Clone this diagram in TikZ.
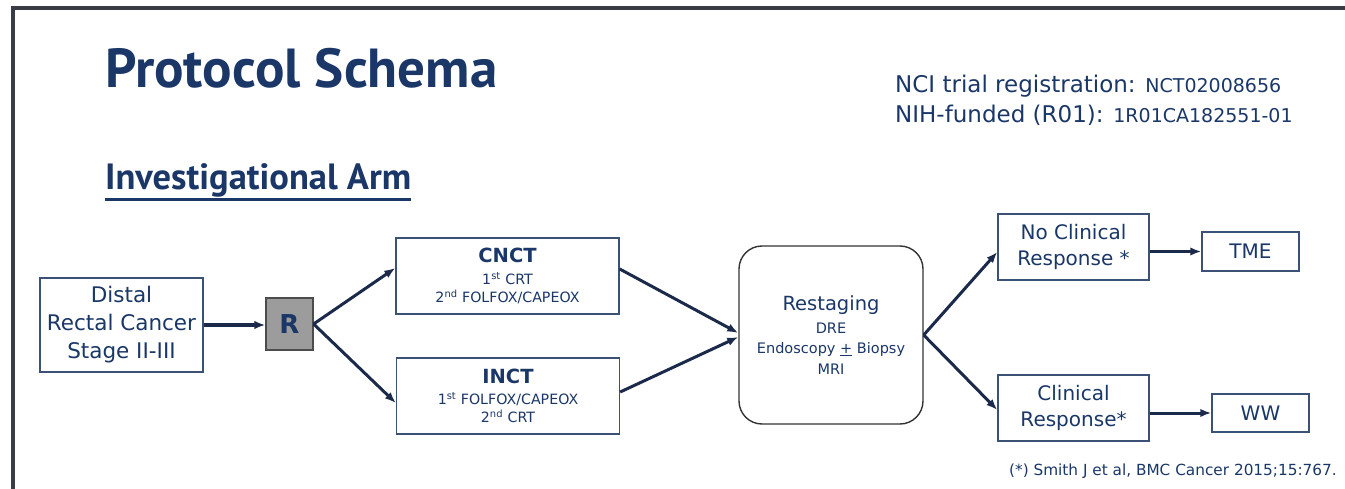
\documentclass[tikz,border=0pt]{standalone}
\usepackage{fontspec}
\setmainfont{DejaVu Sans}
\newfontfamily\headfont{PT Sans}
\usepackage{xcolor}
\usetikzlibrary{arrows.meta}
\definecolor{navy}{HTML}{1A3768}
\definecolor{boxline}{HTML}{3B5175}
\definecolor{arrowblue}{HTML}{1B2A4A}
\definecolor{framegray}{HTML}{3A3D44}
\definecolor{randgray}{HTML}{9C9C9C}
\tikzset{
  slideframe/.style={draw=framegray, line width=4pt, miter limit=10},
  headtext/.style={text=navy, inner sep=0pt, anchor=base west},
  armbox/.style={
    draw=boxline, line width=1.4pt, fill=white, align=center,
    text=navy, inner sep=2pt, font=\fontsize{20}{28}\selectfont
  },
  drugbox/.style={
    armbox, minimum width=223pt, minimum height=76pt,
    font=\fontsize{14.2}{18}\selectfont
  },
  outbox/.style={armbox, font=\fontsize{20}{26}\selectfont},
  randbox/.style={
    draw=black!70, line width=1.2pt, fill=randgray, text=navy,
    minimum width=47pt, minimum height=52pt, inner sep=0pt,
    font=\fontsize{26}{30}\selectfont\bfseries
  },
  restagebox/.style={
    draw=black!80, line width=1.4pt, fill=white, align=center,
    rounded corners=23pt, text=navy,
    minimum width=184pt, minimum height=178pt,
    font=\fontsize{14.5}{20.5}\selectfont
  },
  flowarrow/.style={
    -{Latex[length=11pt,width=8.5pt]}, line width=3pt, draw=arrowblue
  },
}

\begin{document}
\begin{tikzpicture}[x=1pt, y=-1pt]
  \useasboundingbox (0,0) rectangle (1345,489);

  % ── Slide frame ────────────────────────────────────────────────
  \draw[slideframe] (13,489) -- (13,8) -- (1345,8);

  % ── Headings ───────────────────────────────────────────────────
  \node[headtext, font=\headfont\bfseries\fontsize{55}{64}\selectfont]
    (title) at (105,88) {Protocol Schema};
  \node[headtext, font=\headfont\bfseries\fontsize{36.5}{42}\selectfont]
    (arm) at (105,190) {Investigational Arm};
  \draw[navy, line width=2.5pt]
    ([yshift=-1.5pt]arm.south west) -- ([yshift=-1.5pt]arm.south east);

  \node[headtext, font=\fontsize{23}{27}\selectfont] (nci) at (895,93)
    {NCI trial registration: {\fontsize{19}{23}\selectfont NCT02008656}};
  \node[headtext, font=\fontsize{23}{27}\selectfont] (nih) at (895,123)
    {NIH-funded (R01): {\fontsize{19}{23}\selectfont 1R01CA182551-01}};

  % ── Eligibility and randomisation ──────────────────────────────
  \node[armbox, minimum width=163pt, minimum height=94pt,
        font=\fontsize{21.5}{28}\selectfont]
    (distal) at (121.5,325) {Distal\\Rectal Cancer\\Stage II-III};
  \node[randbox] (rand) at (289.5,324) {R};

  \draw[flowarrow] (distal.east) -- (distal.east -| rand.west);

  % ── Treatment sequences ────────────────────────────────────────
  \node[drugbox] (cnct) at (507.5,276)
    {{\fontsize{19.5}{22}\selectfont\bfseries CNCT}\\[4pt]
     1\textsuperscript{st} CRT\\
     2\textsuperscript{nd} FOLFOX/CAPEOX};
  \node[drugbox] (inct) at (508,396)
    {{\fontsize{19.5}{22}\selectfont\bfseries INCT}\\[3pt]
     1\textsuperscript{st} FOLFOX/CAPEOX\\
     2\textsuperscript{nd} CRT};

  \draw[flowarrow] (rand.east) -- ([yshift=8pt]cnct.west);
  \draw[flowarrow] (rand.east) -- ([yshift=-7pt]inct.west);

  % ── Restaging ──────────────────────────────────────────────────
  \node[restagebox] (restage) at (831,335)
    {{\fontsize{19.5}{23}\selectfont Restaging}\\[2.5pt]
     DRE\\
     Endoscopy \underline{+} Biopsy\\
     MRI};

  \draw[flowarrow] ([yshift=7pt]cnct.east) -- ([yshift=2pt]restage.west);
  \draw[flowarrow] ([yshift=4pt]inct.east) -- ([yshift=-2pt]restage.west);

  % ── Response and management ────────────────────────────────────
  \node[outbox, minimum width=151pt, minimum height=66pt]
    (noresp) at (1073.5,247) {No Clinical\\Response *};
  \node[outbox, minimum width=151pt, minimum height=66pt]
    (resp) at (1073.5,408) {Clinical\\Response*};
  \node[outbox, minimum width=97pt, minimum height=39pt]
    (tme) at (1250.5,251.5) {TME};
  \node[outbox, minimum width=97pt, minimum height=38pt]
    (ww) at (1260.5,413) {WW};

  \draw[flowarrow] (restage.east) -- ([yshift=-5pt]noresp.west);
  \draw[flowarrow] (restage.east) -- ([yshift=-2pt]resp.west);
  \draw[flowarrow] (noresp.east |- tme.west) -- (tme.west);
  \draw[flowarrow] (resp.east |- ww.west) -- (ww.west);

  % ── Footnote ───────────────────────────────────────────────────
  \node[headtext, anchor=base east, font=\fontsize{15.3}{18}\selectfont]
    (smith) at (1337,475) {(*) Smith J et al, BMC Cancer 2015;15:767.};
\end{tikzpicture}
\end{document}
